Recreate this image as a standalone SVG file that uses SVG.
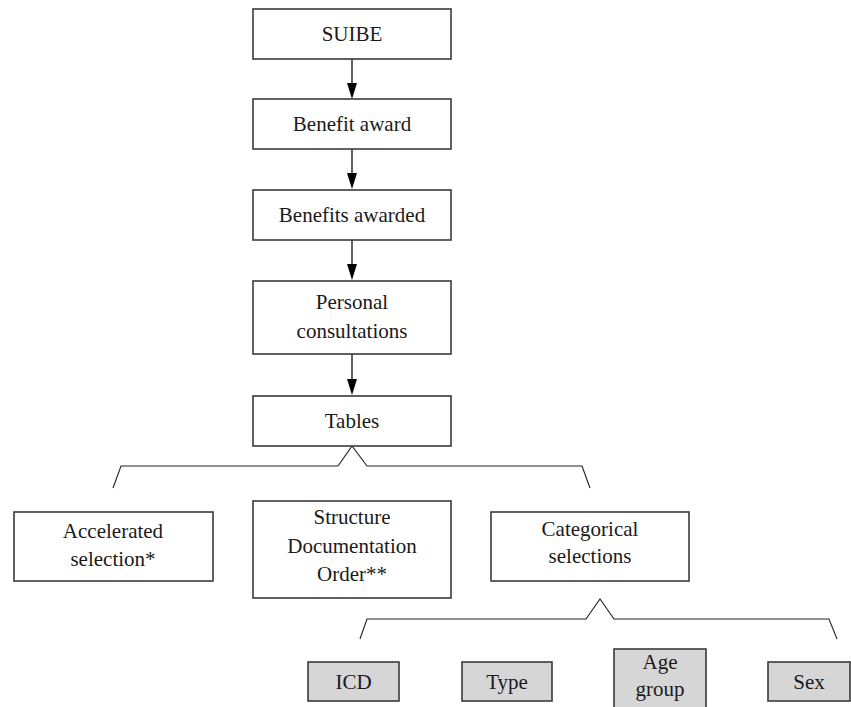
<svg xmlns="http://www.w3.org/2000/svg" width="851" height="707" viewBox="0 0 851 707">
<defs>
<style>
.box{fill:#fff;stroke:#3a3a3a;stroke-width:1.6}
.gbox{fill:#d6d6d7;stroke:#3a3a3a;stroke-width:1.6}
.t{font-family:"Liberation Serif","Times New Roman",serif;font-size:21px;fill:#1a1a1a;text-anchor:middle}
.conn{fill:none;stroke:#3a3a3a;stroke-width:1.6}
.br{fill:none;stroke:#222;stroke-width:1.1}
</style>
</defs>
<rect width="851" height="707" fill="#fff"/>
<g id="connectors">
<line class="conn" x1="352" y1="59" x2="352" y2="84"/>
<path d="M347,83 L357,83 L352,99 Z" fill="#000"/>
<line class="conn" x1="352" y1="149" x2="352" y2="174"/>
<path d="M347,173 L357,173 L352,189 Z" fill="#000"/>
<line class="conn" x1="352" y1="240" x2="352" y2="265"/>
<path d="M347,264 L357,264 L352,280 Z" fill="#000"/>
<line class="conn" x1="352" y1="354" x2="352" y2="380"/>
<path d="M347,379 L357,379 L352,395 Z" fill="#000"/>
<polyline class="br" points="113,488 121,466 338,466 352,446 367,466 582,466 590,488"/>
<polyline class="br" points="360,639 367,619 586,619 600,599 614,619 829,619 837,639"/>
</g>
<g id="suibe">
<rect class="box" x="253" y="9" width="198" height="50"/>
<text class="t" x="352" y="41">SUIBE</text>
</g>
<g id="benefit-award">
<rect class="box" x="253" y="99" width="198" height="50"/>
<text class="t" x="352" y="131">Benefit award</text>
</g>
<g id="benefits-awarded">
<rect class="box" x="253" y="190" width="198" height="50"/>
<text class="t" x="352" y="222">Benefits awarded</text>
</g>
<g id="personal-consultations">
<rect class="box" x="253" y="281" width="198" height="73"/>
<text class="t" x="352" y="309">Personal</text>
<text class="t" x="352" y="338">consultations</text>
</g>
<g id="tables">
<rect class="box" x="253" y="396" width="198" height="50"/>
<text class="t" x="352" y="428">Tables</text>
</g>
<g id="accelerated-selection">
<rect class="box" x="14" y="512" width="199" height="69"/>
<text class="t" x="113" y="538">Accelerated</text>
<text class="t" x="113" y="566">selection*</text>
</g>
<g id="structure-documentation-order">
<rect class="box" x="253" y="501" width="198" height="97"/>
<text class="t" x="352" y="524">Structure</text>
<text class="t" x="352" y="553">Documentation</text>
<text class="t" x="352" y="581">Order**</text>
</g>
<g id="categorical-selections">
<rect class="box" x="491" y="512" width="198" height="69"/>
<text class="t" x="590" y="536">Categorical</text>
<text class="t" x="590" y="563">selections</text>
</g>
<g id="icd">
<rect class="gbox" x="308" y="662" width="91" height="39"/>
<text class="t" x="353.5" y="689">ICD</text>
</g>
<g id="type">
<rect class="gbox" x="462" y="662" width="90" height="39"/>
<text class="t" x="507" y="689">Type</text>
</g>
<g id="age-group">
<rect class="gbox" x="614" y="649" width="92" height="62"/>
<text class="t" x="660" y="669">Age</text>
<text class="t" x="660" y="696">group</text>
</g>
<g id="sex">
<rect class="gbox" x="768" y="662" width="82" height="39"/>
<text class="t" x="809" y="689">Sex</text>
</g>
</svg>
